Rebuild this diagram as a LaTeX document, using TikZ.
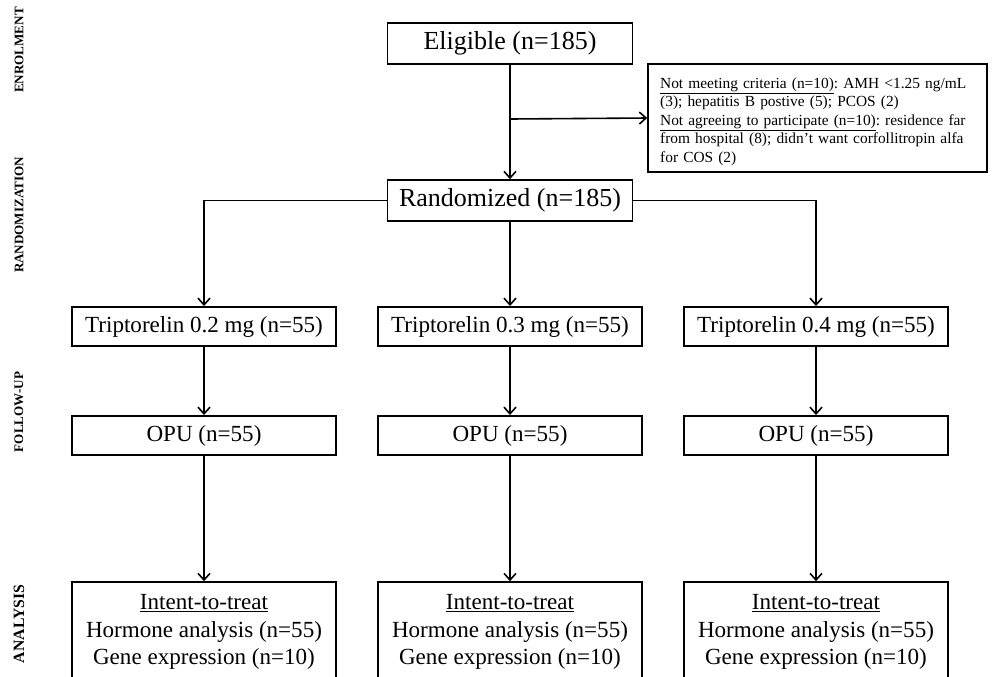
\documentclass[tikz,border=0pt]{standalone}
\usepackage{fontspec}
\setmainfont{Liberation Serif}
\usetikzlibrary{arrows.meta}
\frenchspacing
\newcommand\myul[1]{\underline{\smash{#1}\rule[-1.9pt]{0pt}{0pt}}}
\begin{document}
\begin{tikzpicture}[x=0.75pt,y=-0.75pt,
  box/.style={draw, line width=1.2pt, inner sep=0pt, align=center},
  big/.style={box, minimum width=183.75pt, minimum height=30.75pt, font=\fontsize{19.5}{23}\selectfont},
  arm/.style={box, minimum width=198pt, minimum height=29.5pt, font=\fontsize{17.3}{20.6}\selectfont},
  res/.style={box, minimum width=198pt, minimum height=75pt, font=\fontsize{17.3}{20.6}\selectfont},
  exclbox/.style={box, minimum width=254.25pt, minimum height=81pt},
  excltext/.style={inner sep=0pt, align=left, text width=236pt, font=\fontsize{11.55}{13.9}\selectfont},
  flow/.style={line width=1.2pt, -{Straight Barb[length=5pt,width=9pt,line width=1.2pt]}},
  phase/.style={rotate=90, font=\bfseries\fontsize{9.8}{12}\selectfont}]
\useasboundingbox (0,0) rectangle (993,676);
\clip (0,0) rectangle (993,676);

% phase labels
\node[phase] (pEn) at (19,50) {ENROLMENT};
\node[phase] (pRa) at (19,215) {RANDOMIZATION};
\node[phase] (pFo) at (19,412) {FOLLOW-UP};
\node[phase, font=\bfseries\fontsize{11.8}{14}\selectfont] (pAn) at (19,624) {ANALYSIS};

% main nodes
\node[big] (elig) at (510,43.5) {Eligible (n=185)};
\node[big] (rand) at (510,200.5) {Randomized (n=185)};
\node[exclbox] (exc) at (817.5,118) {};
\node[excltext] (exct) at (817.5,122) {\myul{Not meeting criteria (n=10)}: AMH <1.25 ng/mL\\
(3); hepatitis B postive (5); PCOS (2)\\
\myul{Not agreeing to participate (n=10)}: residence far\\
from hospital (8); didn't want corfollitropin alfa\\
for COS (2)};

\node[arm] (t1) at (204,326.5) {Triptorelin 0.2 mg (n=55)};
\node[arm] (t2) at (510,326.5) {Triptorelin 0.3 mg (n=55)};
\node[arm] (t3) at (816,326.5) {Triptorelin 0.4 mg (n=55)};

\node[arm] (o1) at (204,435.5) {OPU (n=55)};
\node[arm] (o2) at (510,435.5) {OPU (n=55)};
\node[arm] (o3) at (816,435.5) {OPU (n=55)};

\node[res] (a1) at (204,632) {\underline{Intent-to-treat}\\Hormone analysis (n=55)\\Gene expression (n=10)};
\node[res] (a2) at (510,632) {\underline{Intent-to-treat}\\Hormone analysis (n=55)\\Gene expression (n=10)};
\node[res] (a3) at (816,632) {\underline{Intent-to-treat}\\Hormone analysis (n=55)\\Gene expression (n=10)};

% connectors
\coordinate (br) at (510,119);
\draw[flow] (elig) -- (rand);
\draw[flow] (br) -- (exc.west);
\draw[flow] (rand.west) -| (t1.north);
\draw[flow] (rand.east) -| (t3.north);
\draw[flow] (rand) -- (t2);
\draw[flow] (t1) -- (o1);
\draw[flow] (t2) -- (o2);
\draw[flow] (t3) -- (o3);
\draw[flow] (o1) -- (a1);
\draw[flow] (o2) -- (a2);
\draw[flow] (o3) -- (a3);
\end{tikzpicture}
\end{document}
